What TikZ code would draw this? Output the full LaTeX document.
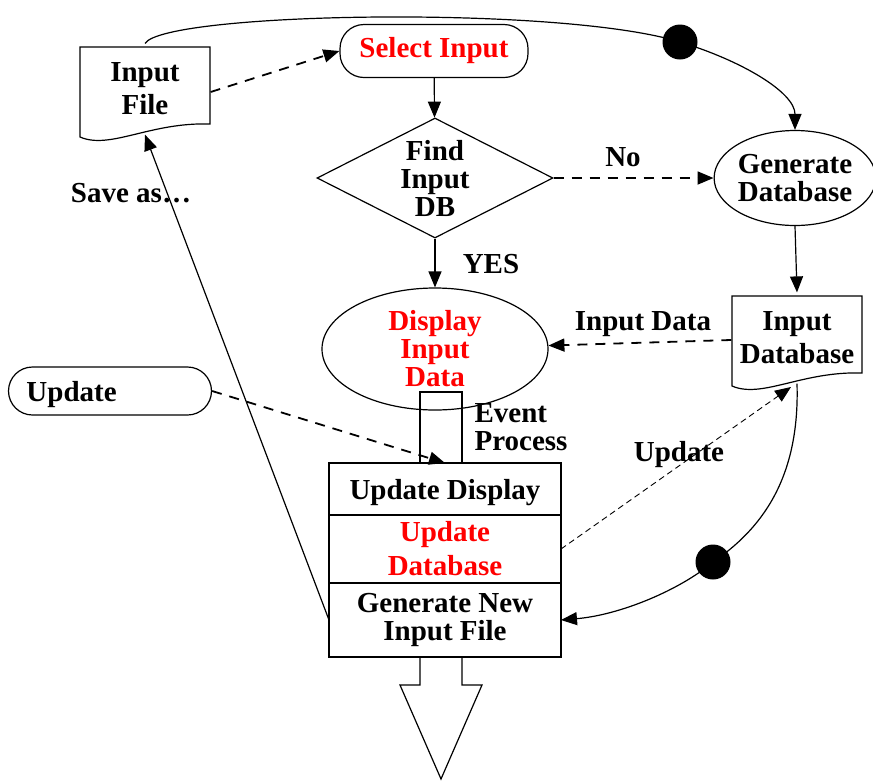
\documentclass[tikz,border=0pt]{standalone}
\usepackage{fontspec}
\setmainfont{Liberation Serif}
\usetikzlibrary{arrows.meta,shapes.geometric,positioning}

\tikzset{
  every node/.style={font=\bfseries\fontsize{29}{28}\selectfont},
  box/.style={draw, rectangle, minimum width=232pt, align=center, inner sep=0pt, outer sep=0pt},
  oval/.style={draw, ellipse, align=center, inner sep=0pt},
  plain/.style={align=center, inner sep=0pt},
  doc/.style={minimum width=130pt, minimum height=90pt, align=center, inner sep=0pt},
  flow/.style={-{Triangle[length=16pt,width=13pt]}},
  dflow/.style={flow, line width=1.8pt, dash pattern=on 10pt off 8pt},
  tflow/.style={flow, line width=0.9pt, dash pattern=on 6pt off 4pt},
  blackdot/.style={circle, fill=black, minimum size=35pt, inner sep=0pt},
}
% outline of a document box around a named node
\newcommand{\docshape}[1]{%
  \draw[shift={(#1.center)}] (-65,-42) -- (65,-42) -- (65,35)
    .. controls (5,33) and (-35,61) .. (-65,48) -- cycle;}

\begin{document}
\begin{tikzpicture}[x=1pt, y=-1pt, line width=1.2pt]
    \useasboundingbox (0,0) rectangle (873,780);

    \node[doc] (infile) at (145,89) {Input\\[5pt]File};
    \docshape{infile}
    \node[draw, rounded corners=24pt, minimum width=188pt, minimum height=53pt,
          inner sep=0pt, text=red] (selin) at (434,51) {Select Input};
    \node[draw, diamond, aspect=2, minimum width=236pt, minimum height=120pt, inner sep=0pt,
          align=center] (find) at (435,178) {Find\\Input\\DB};
    \node[oval, minimum width=156pt, minimum height=95pt] (gendb) at (795,178) {Generate\\Database};
    \node[doc] (indb) at (797,338) {Input\\[5pt]Database};
    \docshape{indb}
    \node[oval, minimum width=226pt, minimum height=122pt, text=red] (disp) at (435,349) {Display\\Input\\Data};
    \node[draw, rounded corners=24pt, minimum width=203pt, minimum height=48pt, text depth=0pt,
          text width=167pt, inner xsep=18pt, align=left] (upd) at (110,391) {Update};

    \node[draw, minimum width=42pt, minimum height=71pt] (stem) at (441,427.5) {};
    \node[box, minimum height=52pt, text depth=0pt] (upddisp) at (445,489) {Update Display};
    \node[box, minimum height=68pt, below=0pt of upddisp, text=red] (upddb) {Update\\[6pt]Database};
    \node[box, minimum height=74pt, below=0pt of upddb] (genfile) {Generate New\\Input File};

    % labels
    \node[plain] (no) at (623,157) {No};
    \node[plain] (yes) at (491,264) {YES};
    \node[plain] (indata) at (643,324) {Input Data};
    \node[plain, align=left] (evt) at (521,427) {Event\\Process};
    \node[plain] (updlbl) at (679,455) {Update};
    \node[plain] (saveas) at (131,193) {Save as…};

    \coordinate (dbfoot) at (791,387);

    \draw[flow] (selin) -- (find);
    \draw[flow] (find) -- (disp);
    \draw[dflow] (find) -- (gendb);
    \draw[flow] (gendb.south) -- (indb.north);
    \draw[dflow] (indb) -- (disp);
    \draw[dflow] ([yshift=-3pt]infile.east) -- (selin.west);
    \draw[dflow] (upd.east) -- (upddisp.north);
    \draw[tflow] (upddb.east) -- (dbfoot);
    \draw[flow] (genfile.west) -- (infile.south);

    \coordinate (d1) at (680,42);
    \coordinate (d2) at (713,562);
    \draw[flow] (infile.north) .. controls (165,12) and (560,5) .. (d1)
        .. controls (740,60) and (795,92) .. (gendb.north);
    \draw[flow] (indb.south) .. controls (800,480) and (760,530) .. (d2)
        .. controls (680,590) and (620,615) .. (genfile.east);
    \node[blackdot] (dot1) at (d1) {};
    \node[blackdot] (dot2) at (d2) {};

    % output arrow
    \draw (420,657) -- (420,685) -- (400,685) -- (441,779) -- (482,685) -- (462,685) -- (462,657);
\end{tikzpicture}
\end{document}
